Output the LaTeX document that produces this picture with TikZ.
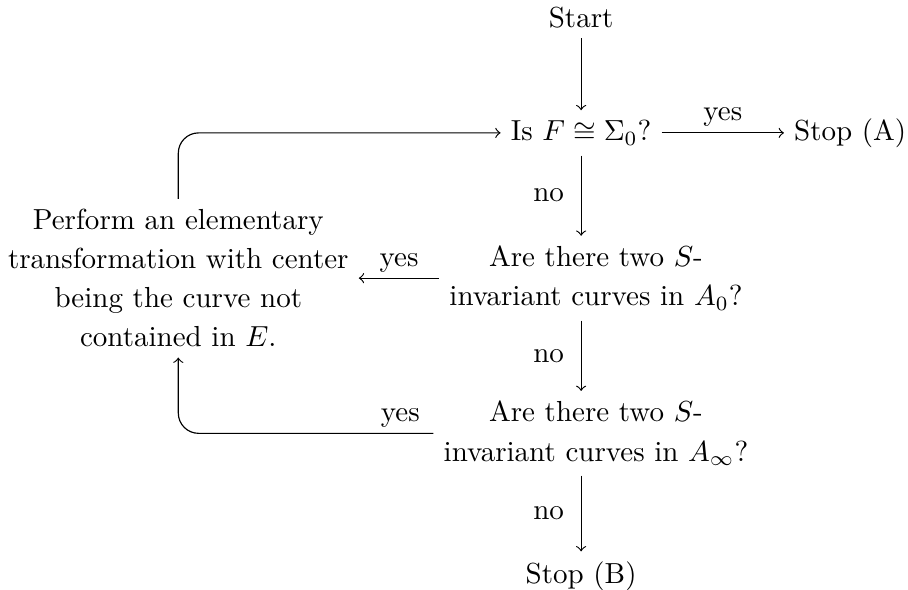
\documentclass[tikz,border=0pt]{standalone}
\usepackage{tikz}
\usetikzlibrary{positioning,calc}

\begin{document}
\begin{tikzpicture}[font=\fontsize{10pt}{13.5pt}\selectfont,
 q/.style={align=center},
 ar/.style={->},
 loop/.style={->,rounded corners=7pt},
 yl/.style={above=-1.4pt},
 nl/.style={left=2.4pt}]
\useasboundingbox (0,0) rectangle (11.0,7.14);
\node (st) at (7.04,6.93) {Start};
\node (isf) at (7.04,5.53) {Is $F\cong\Sigma_0$?};
\node (sa) at (10.30,5.53) {Stop (A)};
\node[q] (az) at (7.22,3.77) {Are there two $S$-\\invariant curves in $A_0$?};
\node[q] (pe) at (2.16,3.77) {Perform an elementary\\transformation with center\\being the curve not\\contained in $E$.};
\node[q] (ai) at (7.22,1.89) {Are there two $S$-\\invariant curves in $A_\infty$?};
\node (sb) at (7.04,0.16) {Stop (B)};
\draw[ar] (st) -- (isf);
\draw[ar] (isf) -- node[yl] {yes} (sa);
\draw[ar] (isf.south) -- node[nl] {no} (isf.south |- az.north);
\draw[ar] (az) -- node[yl] {yes} (pe);
\draw[ar] (az.south -| isf) -- node[nl] {no} (isf |- ai.north);
\draw[ar] (ai.south -| sb) -- node[nl] {no} (sb);
\draw[loop] (ai.west) -| node[yl,pos=0.065] {yes} (pe.south);
\draw[loop] (pe.north) |- (isf.west);
\end{tikzpicture}
\end{document}
